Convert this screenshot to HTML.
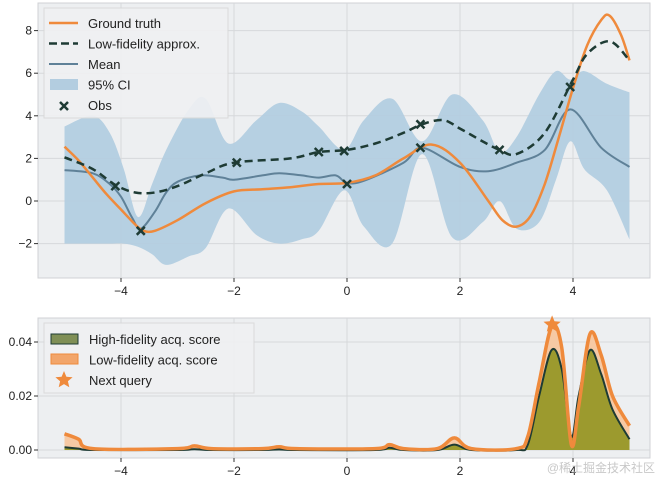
<!DOCTYPE html>
<html><head><meta charset="utf-8"><style>
body{margin:0;background:#fff;}
svg{display:block;font-family:"Liberation Sans",sans-serif;}
</style></head><body>
<svg id="c" width="659" height="477" viewBox="0 0 659 477"></svg>
<script>
// ---- data: top panel ----
const truthX=[-5,-4.75,-4.5,-4.25,-4,-3.75,-3.6,-3.4,-3,-2.5,-2,-1.5,-1,-0.5,0,0.5,1,1.5,2,2.5,2.75,3,3.25,3.5,3.75,4,4.25,4.5,4.65,4.85,5];
const truthY=[2.55,1.9,1.1,0.3,-0.4,-1.1,-1.4,-1.4,-0.9,-0.1,0.45,0.55,0.65,0.8,0.85,1.2,2.0,2.65,1.8,0,-0.9,-1.2,-0.7,0.8,3.0,5.3,7.3,8.5,8.7,7.8,6.6];
const lowX=[-5,-4.5,-4.1,-3.75,-3.4,-3,-2.5,-2,-1,-0.5,0,0.5,1,1.33,1.7,2,2.4,2.7,3,3.5,4,4.25,4.65,5];
const lowY=[2.05,1.5,0.75,0.4,0.4,0.7,1.3,1.8,2.0,2.3,2.4,2.7,3.2,3.6,3.8,3.4,2.8,2.4,2.2,3.2,5.7,6.9,7.5,6.6];
const meanX=[-5,-4.5,-4.2,-4,-3.8,-3.65,-3.4,-3.2,-3,-2.6,-2.2,-2,-1.5,-1.2,-0.8,-0.5,-0.2,0,0.3,1,1.33,2,2.5,3,3.5,3.95,4.5,5];
const meanY=[1.45,1.3,0.8,0.2,-0.8,-1.3,-0.5,0.4,0.9,1.2,1.1,1.0,1.2,1.3,1.2,1.1,1.2,0.85,0.95,1.8,2.5,1.6,1.4,1.8,2.4,4.3,2.5,1.6];
const ciX=[-5,-4.5,-4.2,-3.95,-3.7,-3.45,-3.2,-2.8,-2.5,-2.1,-1.6,-1.2,-0.8,-0.5,-0.05,0.3,0.8,1.33,1.86,2.4,2.7,3.0,3.4,3.7,3.95,4.2,4.6,5];
const ciUp=[3.5,4.0,3.2,1.5,-0.75,0.8,2.4,4.3,4.8,2.7,3.8,4.6,4.2,3.5,2.4,3.8,4.8,2.8,5.0,3.8,2.3,3.0,5.0,6.1,5.7,6.1,5.5,5.1];
const ciLo=[-2.0,-2.0,-2.0,-2.0,-2.15,-2.5,-3.0,-2.6,-2.2,-0.35,-1.6,-2.0,-1.8,-1.4,0.5,-1.2,-2.0,2.2,-1.7,-1.0,0.0,-1.3,-1.0,1.0,2.8,1.5,0.5,-1.8];
const obsX=[-4.1,-3.65,-1.95,-0.5,-0.05,0,1.3,1.3,2.7,3.95];
const obsY=[0.7,-1.4,1.8,2.3,2.35,0.8,3.6,2.5,2.4,5.35];
const topYTicks=[-2,0,2,4,6,8];
const xTicks=[-4,-2,0,2,4];
// ---- data: bottom panel ----
const acqX=[-5,-4.75,-4.5,-3,-2.7,-2.4,-1.5,-1.2,-0.9,0.5,0.75,1.0,1.6,1.9,2.2,3.0,3.2,3.4,3.62,3.8,3.97,4.1,4.3,4.5,4.7,5];
const lowAcq=[0.006,0.004,0.0005,0.0005,0.0015,0.0005,0.0005,0.0012,0.0005,0.0005,0.002,0.0005,0.0005,0.0045,0.0005,0.0005,0.005,0.025,0.0455,0.038,0.002,0.016,0.043,0.035,0.02,0.009];
const highAcq=[0.001,0.0005,0,0,0.0003,0,0,0.0002,0,0,0.0008,0,0,0.002,0,0,0.002,0.02,0.037,0.03,0.005,0.02,0.037,0.028,0.015,0.004];
const nextQX=[3.63], nextQY=[0.0465];
const botYTicks=[0,0.02,0.04];

const NS='http://www.w3.org/2000/svg';
const svg=document.getElementById('c');
function mk(t,a,p){const e=document.createElementNS(NS,t);for(const k in a)e.setAttribute(k,a[k]);(p||svg).appendChild(e);return e;}
const L=38,R=650;
const sx=v=>347+v*56.5;
const syT=v=>201-v*21.3;
const syB=v=>450-v*2700;
function smooth(pts){let d='M'+pts[0][0]+','+pts[0][1];for(let i=0;i<pts.length-1;i++){const p0=pts[Math.max(0,i-1)],p1=pts[i],p2=pts[i+1],p3=pts[Math.min(pts.length-1,i+2)];const c1=[p1[0]+(p2[0]-p0[0])/6,p1[1]+(p2[1]-p0[1])/6],c2=[p2[0]-(p3[0]-p1[0])/6,p2[1]-(p3[1]-p1[1])/6];d+=' C'+c1[0].toFixed(1)+','+c1[1].toFixed(1)+' '+c2[0].toFixed(1)+','+c2[1].toFixed(1)+' '+p2[0].toFixed(1)+','+p2[1].toFixed(1);}return d;}
function pts(xs,ys,fy){return xs.map((x,i)=>[sx(x),fy(ys[i])]);}
function revPath(p){return smooth(p.slice().reverse()).replace(/^M/,'L');}

function axes(top,bot,yt,fy,fmt,name){
  const bg=mk('rect',{x:L,y:top,width:R-L,height:bot-top,fill:'#edeff1',stroke:'#d0d2d5'});
  
  xTicks.forEach(t=>{const l=mk('line',{x1:sx(t),x2:sx(t),y1:top,y2:bot,stroke:'#d6d8db'});
    const k=mk('line',{x1:sx(t),x2:sx(t),y1:bot,y2:bot+4,stroke:'#333'});
    const tx=mk('text',{x:sx(t),y:bot+17,'text-anchor':'middle','font-size':12,fill:'#222'});tx.textContent=t<0?'\u2212'+(-t):t;});
  yt.forEach(t=>{const l=mk('line',{x1:L,x2:R,y1:fy(t),y2:fy(t),stroke:'#d6d8db'});
    mk('line',{x1:L-4,x2:L,y1:fy(t),y2:fy(t),stroke:'#333'});
    const tx=mk('text',{x:L-6,y:fy(t)+4,'text-anchor':'end','font-size':12,fill:'#222'});tx.textContent=fmt(t);});
}
// top
axes(3,278,topYTicks,syT,t=>t<0?'\u2212'+(-t):''+t,'top');
const up=pts(ciX,ciUp,syT),lo=pts(ciX,ciLo,syT);
const ci=mk('path',{d:smooth(up)+' '+revPath(lo)+' Z',fill:'#b3cde0',opacity:0.95});

const mean=mk('path',{d:smooth(pts(meanX,meanY,syT)),fill:'none',stroke:'#5f8198','stroke-width':2});

const tr=mk('path',{d:smooth(pts(truthX,truthY,syT)),fill:'none',stroke:'#ef8a3c','stroke-width':2.5});

const lw=mk('path',{d:smooth(pts(lowX,lowY,syT)),fill:'none',stroke:'#1e3b34','stroke-width':2.5,'stroke-dasharray':'8,5'});

obsX.forEach((x,i)=>{const cx=sx(x),cy=syT(obsY[i]);const m=mk('path',{d:`M${cx-4},${cy-4}L${cx+4},${cy+4}M${cx-4},${cy+4}L${cx+4},${cy-4}`,stroke:'#1e3b34','stroke-width':2.5});
  });
// top legend
const lg=mk('g',{});
mk('rect',{x:44,y:8,width:184,height:110,fill:'#f0f1f3',stroke:'#d8d8d8',opacity:0.9},lg);
const items=['Ground truth','Low-fidelity approx.','Mean','95% CI','Obs'];
items.forEach((s,i)=>{const y=23+i*20.5;const t=mk('text',{x:88,y:y+5,'font-size':13,fill:'#222'},lg);t.textContent=s;});
mk('line',{x1:49,x2:78,y1:23,y2:23,stroke:'#ef8a3c','stroke-width':2.5},lg);
mk('line',{x1:49,x2:78,y1:43.5,y2:43.5,stroke:'#1e3b34','stroke-width':2.5,'stroke-dasharray':'8,4'},lg);
mk('line',{x1:49,x2:78,y1:64,y2:64,stroke:'#5f8198','stroke-width':2},lg);
mk('rect',{x:50,y:79,width:28,height:11,fill:'#b3cde0'},lg);
mk('path',{d:'M60,102L68,110M60,110L68,102',stroke:'#1e3b34','stroke-width':2.5},lg);

// bottom
axes(318,458,botYTicks,syB,t=>t.toFixed(2),'bottom');
const lp=pts(acqX,lowAcq,syB),hp=pts(acqX,highAcq,syB);
const base=syB(0);
const lf=mk('path',{d:smooth(lp)+` L${sx(5)},${base} L${sx(-5)},${base} Z`,fill:'#f6c9a4'});

const hf=mk('path',{d:smooth(hp)+` L${sx(5)},${base} L${sx(-5)},${base} Z`,fill:'#9c9a2e'});

const hl=mk('path',{d:smooth(hp),fill:'none',stroke:'#1e3b34','stroke-width':2});

const ll=mk('path',{d:smooth(lp),fill:'none',stroke:'#ef8a3c','stroke-width':3.5});

function star(cx,cy,r){let d='';for(let i=0;i<10;i++){const a=-Math.PI/2+i*Math.PI/5,rr=i%2?r*0.45:r;d+=(i?'L':'M')+(cx+rr*Math.cos(a)).toFixed(1)+','+(cy+rr*Math.sin(a)).toFixed(1);}return d+'Z';}
nextQX.forEach((x,i)=>{const s=mk('path',{d:star(sx(x),syB(nextQY[i]),9),fill:'#ef8a3c'});});
// bottom legend
const bl=mk('g',{});
mk('rect',{x:44,y:323,width:210,height:70,fill:'#f0f1f3',stroke:'#d8d8d8',opacity:0.9},bl);
['High-fidelity acq. score','Low-fidelity acq. score','Next query'].forEach((s,i)=>{const t=mk('text',{x:89,y:344+i*20.5,'font-size':13,fill:'#222'},bl);t.textContent=s;});
mk('rect',{x:51,y:334,width:27,height:10,fill:'#7f8f56',stroke:'#1e3b34'},bl);
mk('rect',{x:51,y:354,width:27,height:10,fill:'#f2a56a',stroke:'#ef8a3c'},bl);
mk('path',{d:star(64,380,9),fill:'#ef8a3c'},bl);
const wm=mk('text',{x:655,y:472,'text-anchor':'end','font-size':12,fill:'#c8c8c8','font-family':'"Liberation Sans","Noto Sans CJK SC",sans-serif'});wm.textContent='@稀土掘金技术社区';
</script>
</body></html>
